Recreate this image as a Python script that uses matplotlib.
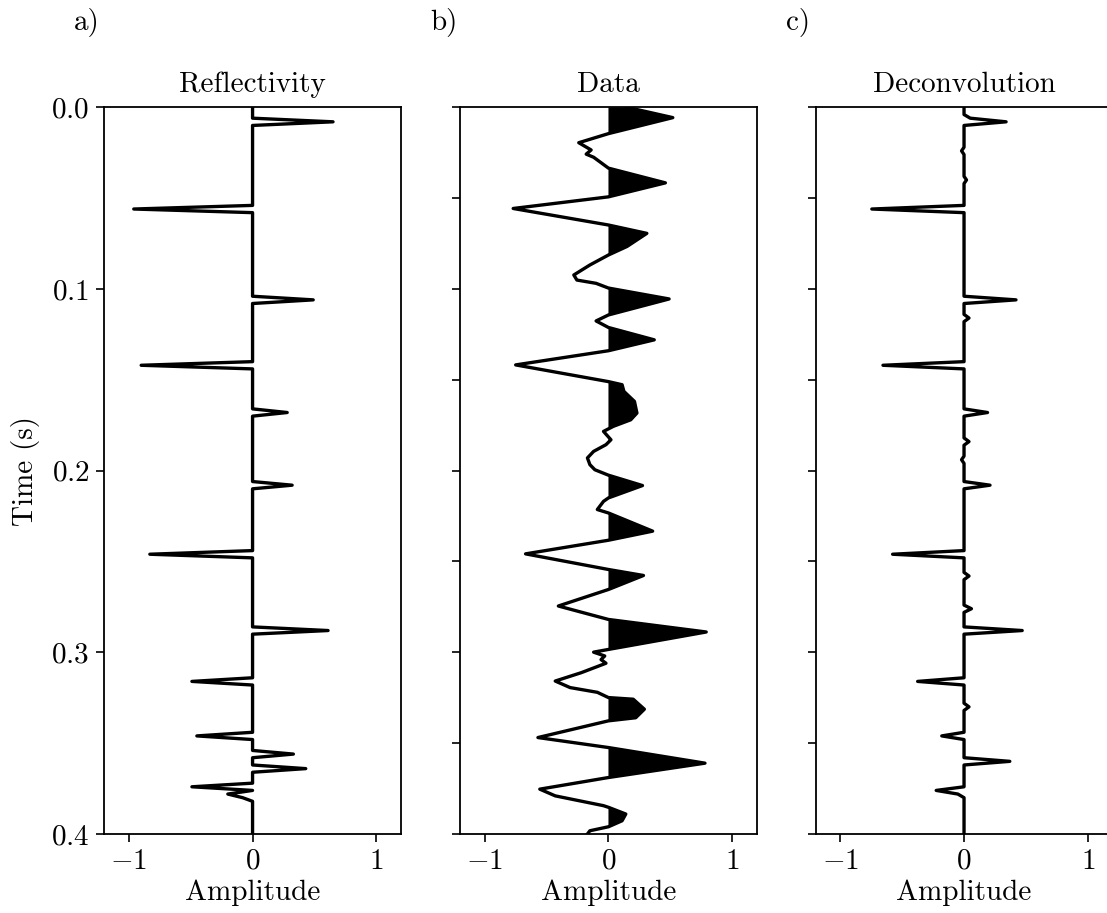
import matplotlib
matplotlib.use('Agg')
import matplotlib.pyplot as plt
import numpy as np

plt.rcParams['font.family'] = ['cmr10', 'DejaVu Serif']
plt.rcParams['mathtext.fontset'] = 'cm'
plt.rcParams['axes.formatter.use_mathtext'] = True
plt.rcParams['font.size'] = 21
plt.rcParams['axes.titlesize'] = 21
plt.rcParams['axes.labelsize'] = 21

# reflectivity: non-zero samples (dt = 2 ms)
dt = 0.002
refl_t = [0.008, 0.056, 0.106, 0.142, 0.168, 0.208, 0.246, 0.288, 0.316,
          0.346, 0.356, 0.364, 0.374, 0.378, 0.380]
refl_a = [0.65, -0.96, 0.49, -0.90, 0.28, 0.32, -0.83, 0.61, -0.49,
          -0.45, 0.33, 0.43, -0.49, -0.20, -0.08]

# deconvolution output: non-zero samples
dec_t = [0.006, 0.008, 0.024, 0.040, 0.056, 0.106, 0.116, 0.142, 0.168, 0.184,
         0.194, 0.208, 0.246, 0.258, 0.276, 0.288, 0.316, 0.330, 0.346, 0.360,
         0.376, 0.378]
dec_a = [0.05, 0.34, -0.02, 0.02, -0.745, 0.42, 0.04, -0.655, 0.19, 0.04,
         -0.02, 0.21, -0.577, 0.04, 0.06, 0.47, -0.375, 0.04, -0.18, 0.37,
         -0.225, -0.05]

# recorded trace
data_t = [0.000, 0.0057, 0.0145, 0.0195, 0.0235, 0.0258, 0.0275, 0.0295, 0.032,
          0.0335, 0.0416, 0.0493, 0.0557, 0.0648, 0.0694, 0.0766, 0.0813, 0.0868,
          0.0923, 0.0951, 0.0969, 0.0995, 0.1055, 0.1143, 0.1176, 0.1212, 0.128,
          0.134, 0.1418, 0.151, 0.1527, 0.1564, 0.1619, 0.1683, 0.172, 0.1756,
          0.1784, 0.183, 0.1857, 0.1894, 0.193, 0.1967, 0.1995, 0.2025, 0.2082,
          0.215, 0.2169, 0.2214, 0.2233, 0.2333, 0.2383, 0.2458, 0.2544, 0.2577,
          0.2654, 0.2745, 0.2819, 0.2888, 0.2984, 0.2999, 0.302, 0.304, 0.306,
          0.3112, 0.3158, 0.3194, 0.322, 0.3249, 0.3258, 0.3313, 0.336, 0.3377,
          0.3469, 0.3524, 0.361, 0.3689, 0.3753, 0.379, 0.3844, 0.3853, 0.389,
          0.3927, 0.396, 0.3982, 0.400]
data_a = [0.15, 0.52, 0.0, -0.24, -0.14, -0.18, -0.12, -0.08, -0.03,
          0.0, 0.46, 0.0, -0.77, 0.0, 0.31, 0.15, 0.0, -0.15,
          -0.28, -0.255, -0.10, 0.0, 0.49, 0.0, -0.10, 0.0, 0.37,
          0.0, -0.75, 0.0, 0.11, 0.125, 0.21, 0.23, 0.18, 0.04,
          -0.04, 0.02, -0.02, -0.12, -0.17, -0.15, -0.11, 0.0, 0.275,
          0.0, -0.04, -0.09, 0.0, 0.357, 0.0, -0.67, 0.0, 0.283,
          0.0, -0.405, 0.0, 0.79, 0.0, -0.12, -0.03, -0.06, -0.02,
          -0.22, -0.43, -0.31, -0.09, 0.0, 0.20, 0.29, 0.22, 0.0,
          -0.57, 0.0, 0.78, 0.0, -0.555, -0.43, -0.04, 0.0, 0.14,
          0.11, 0.0, -0.15, -0.17]

titles = ['Reflectivity', 'Data', 'Deconvolution']
letters = ['a)', 'b)', 'c)']

t = np.round(np.arange(0, 0.4 + dt / 2, dt), 4)


def spikes(times, amps):
    x = np.zeros_like(t)
    for ti, a in zip(times, amps):
        x[np.argmin(np.abs(t - ti))] = a
    return x


refl = spikes(refl_t, refl_a)
dec = spikes(dec_t, dec_a)
dt_arr = np.array(data_t)
da_arr = np.array(data_a)

fig = plt.figure(figsize=(11.07, 9.13), dpi=100)
lefts = [0.0940, 0.4155, 0.7367]
axs = [fig.add_axes([l, 0.0865, 0.2683, 0.7960]) for l in lefts]

axs[0].plot(refl, t, 'k', lw=2.4)
axs[1].plot(da_arr, dt_arr, 'k', lw=2.4)
axs[1].fill_betweenx(dt_arr, 0, da_arr, where=da_arr > 0, interpolate=True,
                     color='k', lw=0)
axs[2].plot(dec, t, 'k', lw=2.4)

for i, ax in enumerate(axs):
    ax.set_xlim(-1.2, 1.2)
    ax.set_ylim(0.4, 0.0)
    ax.set_xticks([-1, 0, 1])
    ax.set_xlabel('Amplitude', labelpad=3)
    ax.set_title(titles[i], pad=11)
    ax.tick_params(direction='out', length=5.5, width=1.2, pad=5)
    for s in ax.spines.values():
        s.set_linewidth(1.3)
    fig.text(lefts[i] - 0.027, 0.975, letters[i], ha='left', va='center')

axs[0].set_yticks(np.arange(0, 0.41, 0.1))
axs[0].set_ylabel('Time (s)', labelpad=8)
for ax in axs[1:]:
    ax.set_yticks(np.arange(0, 0.41, 0.05))
    ax.set_yticklabels([])

fig.savefig('out.png', dpi=100)
